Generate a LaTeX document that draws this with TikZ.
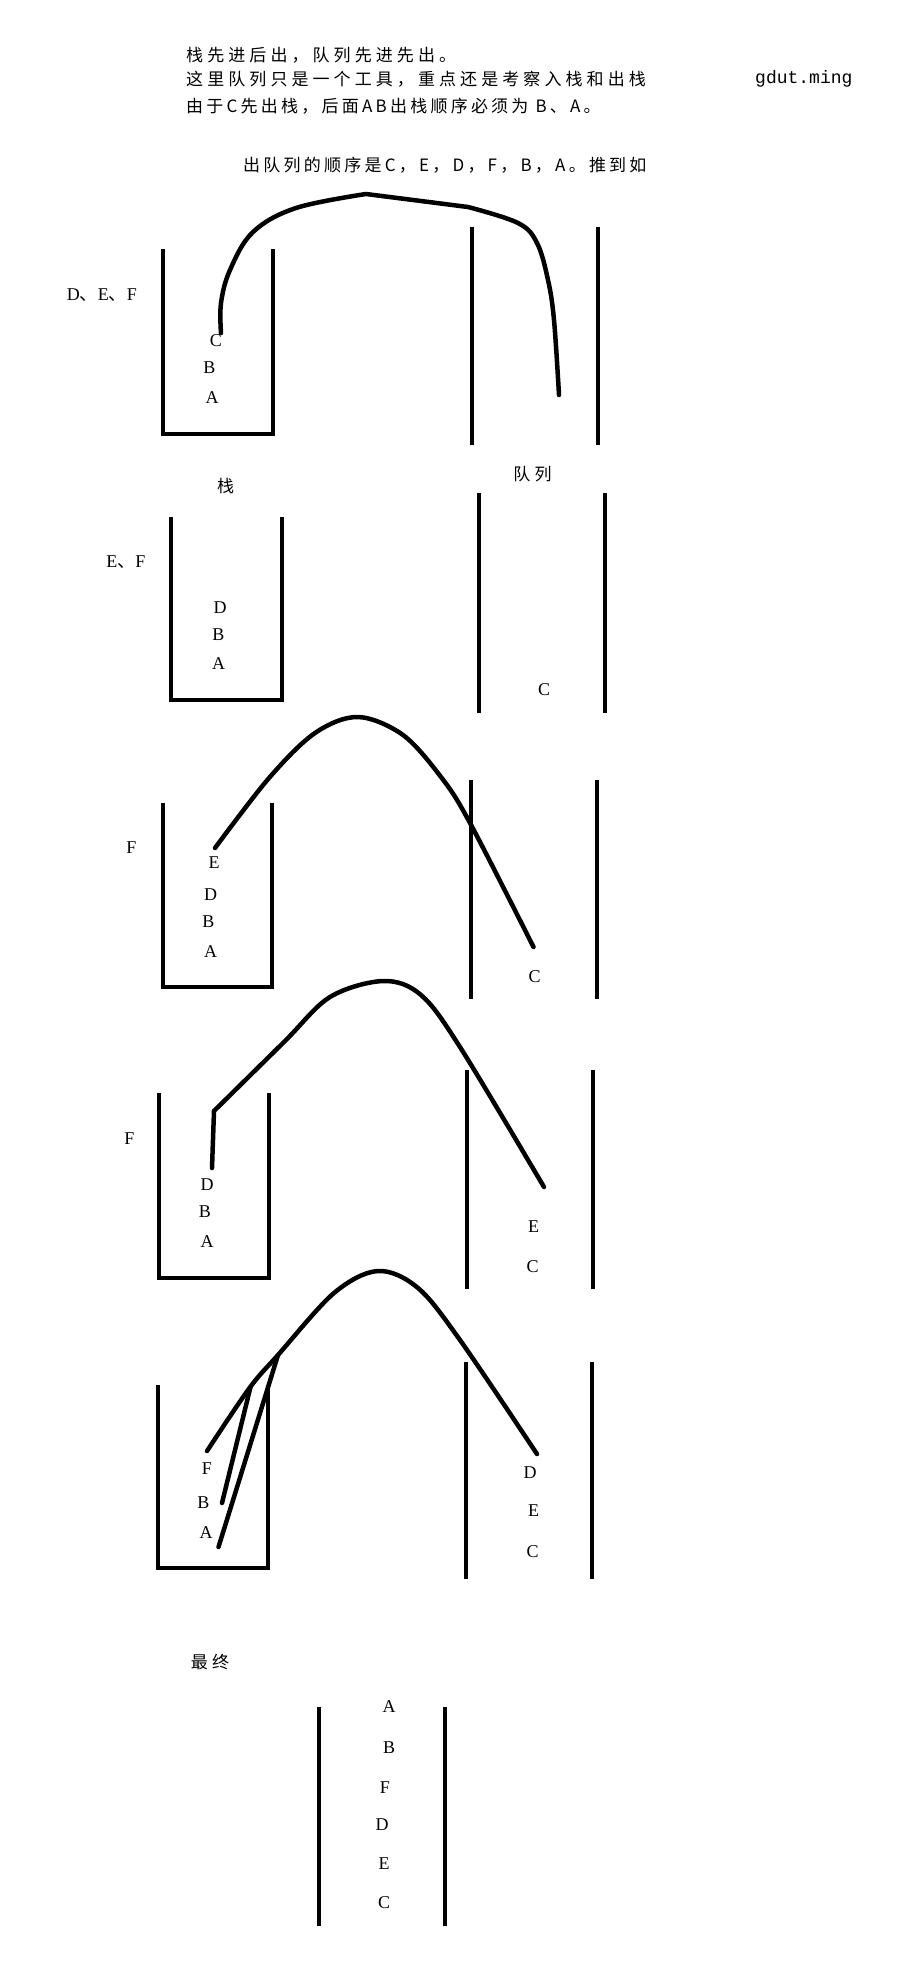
\documentclass[tikz,border=0pt]{standalone}
\usepackage{fontspec}
\setmainfont{Liberation Serif}
\newfontfamily\cjk[LetterSpace=24]{Noto Sans CJK SC}
\newfontfamily\cjkmix[LetterSpace=19]{Noto Sans CJK SC}
\newfontfamily\mono{Liberation Mono}

\begin{document}
\begin{tikzpicture}[x=1pt, y=-1pt,
    wall/.style={line width=4pt},
    move/.style={line width=4.5pt, line cap=round, line join=round},
    letter/.style={font=\fontsize{18}{18}\selectfont, inner sep=0pt},
    note/.style={font=\cjk\fontsize{17}{20}\selectfont, anchor=west, inner sep=0pt}]
  \useasboundingbox (0,0) rectangle (906,1976);

  % Header text
  \node [note] (line1) at (186,55) {栈先进后出，队列先进先出。};
  \node [note] (line2) at (186,79) {这里队列只是一个工具，重点还是考察入栈和出栈};
  \node [note, font=\cjkmix\fontsize{17}{20}\selectfont] (line3) at (186,106) {由于C先出栈，后面AB出栈顺序必须为 B、A。};
  \node [note, font=\mono\fontsize{18}{20}\selectfont] (sign) at (755,79) {gdut.ming};
  \node [note, font=\cjkmix\fontsize{17}{20}\selectfont] (order) at (243,165) {出队列的顺序是C，E，D，F，B，A。推到如};

  % Stacks: left/right/top/bottom
  \foreach \l/\r/\t/\b in {
    162.5/272.5/249/434,
    170.5/281.5/517/700,
    162.5/271.5/803/987,
    159/269/1093/1278,
    158/268/1385/1568
  } {
    \draw [wall] (\l,\t) -- (\l,\b) -- (\r,\b) -- (\r,\t);
  }

  % Queues: two walls each
  \foreach \l/\r/\t/\b in {
    471.5/597.5/227/445,
    478.5/604.5/493/713,
    470.5/596.5/780/999,
    467/593/1070/1289,
    466/592/1362/1579,
    319/445/1707/1926
  } {
    \draw [wall] (\l,\t) -- (\l,\b);
    \draw [wall] (\r,\t) -- (\r,\b);
  }

  % Letters in stacks and queues
  \foreach \n/\t/\x/\y in {
    s1c/C/216/341, s1b/B/209.5/368, s1a/A/212/398,
    s2d/D/220/608, s2b/B/218.5/635, s2a/A/218.5/664, q2c/C/544/690,
    s3e/E/214/863, s3d/D/210.5/895, s3b/B/208.5/922, s3a/A/210.5/952, q3c/C/534.5/977,
    s4d/D/207/1185, s4b/B/205/1212, s4a/A/207/1242, q4e/E/533.5/1227, q4c/C/532.5/1267,
    s5f/F/207/1469, s5b/B/203.5/1503, s5a/A/206/1533,
    q5d/D/530/1473, q5e/E/533.5/1511, q5c/C/532.5/1552,
    fa/A/389/1707, fb/B/389/1748, ff/F/385/1788, fd/D/382/1825, fe/E/384/1864, fc/C/384/1903
  } {
    \node [letter] (\n) at (\x,\y) {\t};
  }

  % Waiting elements and captions
  \node [letter] (wait1) at (102,295) {D{\cjk 、}E{\cjk 、}F};
  \node [letter] (wait2) at (126,562) {E{\cjk 、}F};
  \node [letter] (wait3) at (131.5,848) {F};
  \node [letter] (wait4) at (129.5,1139) {F};
  \node [note, anchor=center] (stack) at (225.5,486) {栈};
  \node [note, anchor=center] (queue) at (532.5,474) {队列};
  \node [note, anchor=center] (final) at (210,1662) {最终};

  % Moves from stack to queue
  \coordinate (from1) at (221,333);
  \coordinate (top1) at (366,194);
  \coordinate (to1) at (559,395);
  \draw [move] plot [smooth, tension=0.6] coordinates {
      (from1) (221,303) (230,270) (253,232) (296,208) (top1)}
    -- (468,207)
    -- plot [smooth, tension=0.6] coordinates {
      (468,207) (518,223) (537,243) (548,280) (554,320) (to1)};

  \coordinate (from2) at (215,848);
  \coordinate (to2) at (533.5,947);
  \draw [move] plot [smooth, tension=0.55] coordinates {
    (from2) (269,778) (315,733) (358,717) (403,735) (441,777) (469.5,822) (to2)};

  \coordinate (from3) at (212,1168);
  \coordinate (kink3) at (214,1111);
  \coordinate (to3) at (544,1187);
  \draw [move] (from3) -- (kink3);
  \draw [move] plot [smooth, tension=0.55] coordinates {
    (kink3) (284,1042) (330,997) (383.5,981) (421,995) (460,1047) (to3)};

  \coordinate (from4) at (207,1451);
  \coordinate (to4) at (537,1454);
  \draw [move] plot [smooth, tension=0.55] coordinates {
    (from4) (249.5,1388) (278,1355) (334,1293) (378,1271) (418,1288) (460,1340) (to4)};
  \coordinate (from4b) at (222,1503);
  \coordinate (join4b) at (250.5,1387);
  \draw [move] (from4b) -- (join4b);
  \coordinate (from4a) at (218.5,1547);
  \coordinate (join4a) at (278,1355);
  \draw [move] (from4a) -- (join4a);
\end{tikzpicture}
\end{document}
